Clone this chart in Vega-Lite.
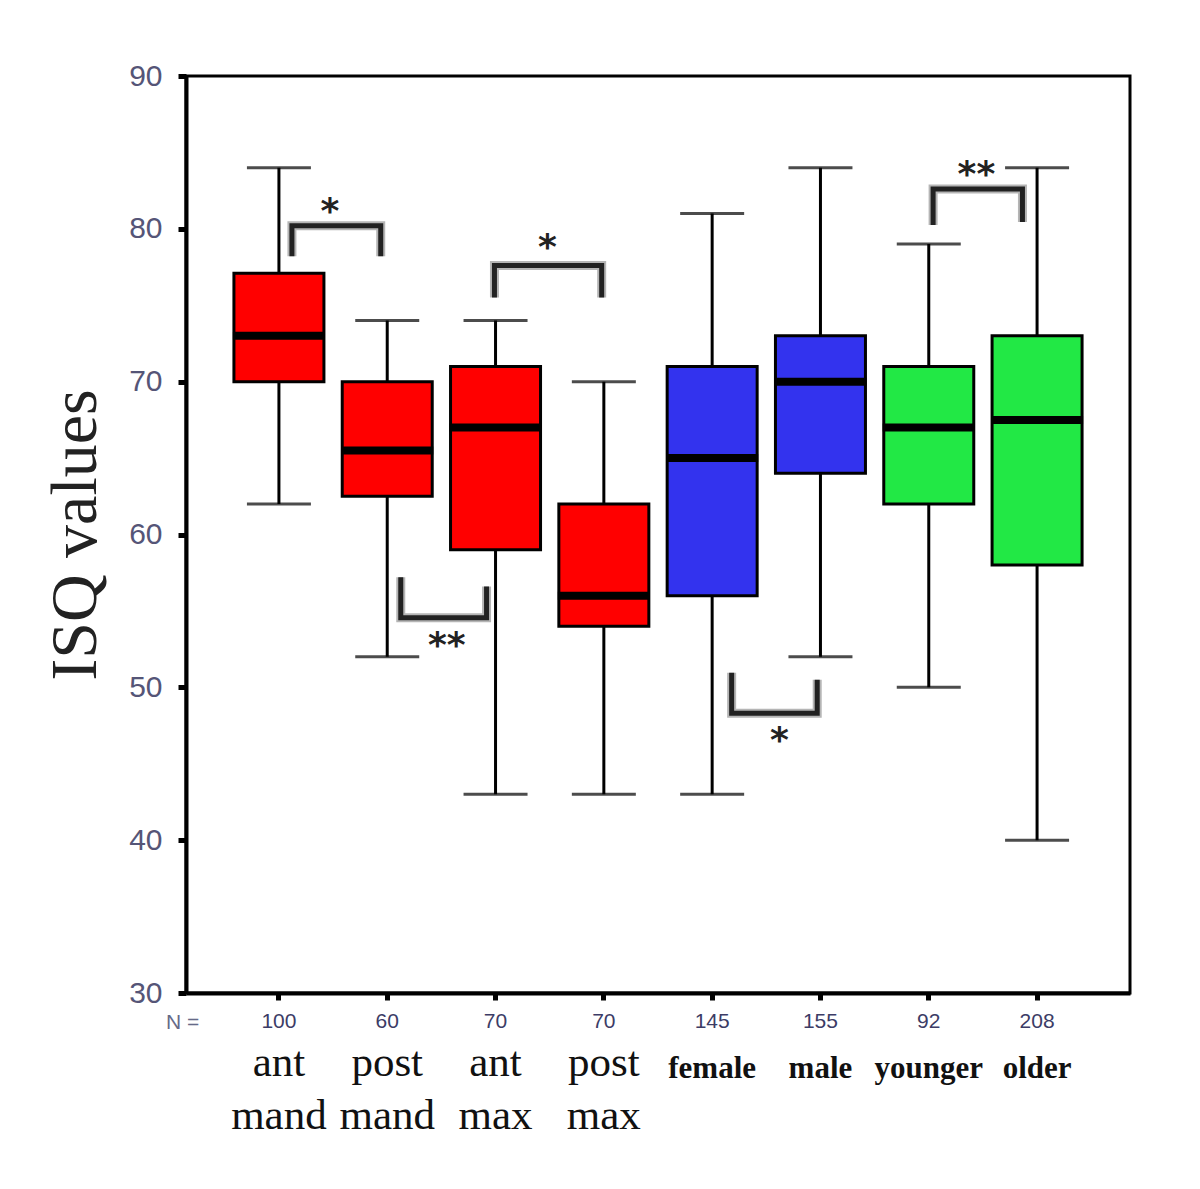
{
  "$schema": "https://vega.github.io/schema/vega-lite/v6.json",
  "width": 944,
  "height": 917,
  "autosize": {"type": "none"},
  "padding": {"left": 186, "top": 76, "right": 70, "bottom": 196},
  "background": "white",
  "config": {"view": {"stroke": "black", "strokeWidth": 3}, "axis": {"grid": false}},
  "datasets": {
    "boxes": [
      {"group": "ant mand", "set": "site", "n": 100, "lo": 62, "q1": 70, "median": 73, "q3": 77.1, "hi": 84},
      {"group": "post mand", "set": "site", "n": 60, "lo": 52, "q1": 62.5, "median": 65.5, "q3": 70, "hi": 74},
      {"group": "ant max", "set": "site", "n": 70, "lo": 43, "q1": 59, "median": 67, "q3": 71, "hi": 74},
      {"group": "post max", "set": "site", "n": 70, "lo": 43, "q1": 54, "median": 56, "q3": 62, "hi": 70},
      {"group": "female", "set": "sex", "n": 145, "lo": 43, "q1": 56, "median": 65, "q3": 71, "hi": 81},
      {"group": "male", "set": "sex", "n": 155, "lo": 52, "q1": 64, "median": 70, "q3": 73, "hi": 84},
      {"group": "younger", "set": "age", "n": 92, "lo": 50, "q1": 62, "median": 67, "q3": 71, "hi": 79},
      {"group": "older", "set": "age", "n": 208, "lo": 40, "q1": 58, "median": 67.5, "q3": 73, "hi": 84}
    ],
    "brackets": [
      {"id": 1, "ord": 1, "group": "ant mand", "dx": 0.12, "y": 78.2},
      {"id": 1, "ord": 2, "group": "ant mand", "dx": 0.12, "y": 80.2},
      {"id": 1, "ord": 3, "group": "post mand", "dx": -0.06, "y": 80.2},
      {"id": 1, "ord": 4, "group": "post mand", "dx": -0.06, "y": 78.2},
      {"id": 2, "ord": 1, "group": "ant max", "dx": -0.01, "y": 75.5},
      {"id": 2, "ord": 2, "group": "ant max", "dx": -0.01, "y": 77.6},
      {"id": 2, "ord": 3, "group": "post max", "dx": -0.02, "y": 77.6},
      {"id": 2, "ord": 4, "group": "post max", "dx": -0.02, "y": 75.5},
      {"id": 3, "ord": 1, "group": "post mand", "dx": 0.125, "y": 57.2},
      {"id": 3, "ord": 2, "group": "post mand", "dx": 0.125, "y": 54.55},
      {"id": 3, "ord": 3, "group": "ant max", "dx": -0.083, "y": 54.55},
      {"id": 3, "ord": 4, "group": "ant max", "dx": -0.083, "y": 56.6},
      {"id": 4, "ord": 1, "group": "female", "dx": 0.18, "y": 50.95},
      {"id": 4, "ord": 2, "group": "female", "dx": 0.18, "y": 48.3},
      {"id": 4, "ord": 3, "group": "male", "dx": -0.03, "y": 48.3},
      {"id": 4, "ord": 4, "group": "male", "dx": -0.03, "y": 50.5},
      {"id": 5, "ord": 1, "group": "younger", "dx": 0.04, "y": 80.25},
      {"id": 5, "ord": 2, "group": "younger", "dx": 0.04, "y": 82.6},
      {"id": 5, "ord": 3, "group": "older", "dx": -0.135, "y": 82.6},
      {"id": 5, "ord": 4, "group": "older", "dx": -0.135, "y": 80.45}
    ],
    "stars": [
      {"group": "ant mand", "dx": 0.47, "y": 81.6, "label": "*"},
      {"group": "ant max", "dx": 0.48, "y": 79.3, "label": "*"},
      {"group": "post mand", "dx": 0.55, "y": 53.2, "label": "**"},
      {"group": "female", "dx": 0.62, "y": 47.0, "label": "*"},
      {"group": "younger", "dx": 0.44, "y": 84.05, "label": "**"}
    ]
  },
  "encoding": {
    "x": {
      "field": "group",
      "type": "nominal",
      "scale": {
        "domain": ["ant mand", "post mand", "ant max", "post max", "female", "male", "younger", "older"],
        "paddingInner": 0,
        "paddingOuter": 0.358
      },
      "axis": {
        "title": "N =",
        "titleX": -4,
        "titleY": 29,
        "titleAlign": "center",
        "titleBaseline": "middle",
        "titleAngle": 0,
        "titleFont": "Liberation Sans",
        "titleFontSize": 21,
        "titleFontWeight": "normal",
        "titleColor": "#666a88",
        "domainColor": "black",
        "domainWidth": 4,
        "tickColor": "black",
        "tickSize": 7,
        "tickWidth": 5,
        "labelAngle": 0,
        "labelExpr": "split(datum.value, ' ')",
        "labelFont": "Liberation Serif",
        "labelFontSize": {"condition": {"test": "indexof(datum.value, ' ') >= 0", "value": 43}, "value": 31},
        "labelFontWeight": {"condition": {"test": "indexof(datum.value, ' ') >= 0", "value": "normal"}, "value": "bold"},
        "labelPadding": {"condition": {"test": "indexof(datum.value, ' ') >= 0", "value": 41}, "value": 53},
        "labelBaseline": "top",
        "labelLineHeight": 53,
        "labelColor": "#111111",
        "labelOverlap": false
      }
    }
  },
  "layer": [
    {
      "data": {"name": "boxes"},
      "mark": {"type": "rule", "color": "black", "strokeWidth": 3},
      "encoding": {
        "y": {
          "field": "lo",
          "type": "quantitative",
          "title": "ISQ values",
          "scale": {"domain": [30, 90], "nice": false, "zero": false},
          "axis": {
            "values": [30, 40, 50, 60, 70, 80, 90],
            "domainColor": "black",
            "domainWidth": 4,
            "tickColor": "black",
            "tickSize": 8,
            "tickWidth": 5,
            "labelFont": "Liberation Sans",
            "labelFontSize": 30,
            "labelColor": "#555577",
            "labelPadding": 16,
            "titleFont": "Liberation Serif",
            "titleFontSize": 66,
            "titleFontWeight": "normal",
            "titleColor": "#222222",
            "titlePadding": 19
          }
        },
        "y2": {"field": "hi"}
      }
    },
    {
      "data": {"name": "boxes"},
      "mark": {"type": "tick", "orient": "horizontal", "color": "black", "size": 64, "thickness": 3},
      "encoding": {"y": {"field": "lo", "type": "quantitative", "title": "ISQ values"}}
    },
    {
      "data": {"name": "boxes"},
      "mark": {"type": "tick", "orient": "horizontal", "color": "black", "size": 64, "thickness": 3},
      "encoding": {"y": {"field": "hi", "type": "quantitative", "title": "ISQ values"}}
    },
    {
      "data": {"name": "boxes"},
      "mark": {"type": "bar", "size": 90, "stroke": "black", "strokeWidth": 3, "opacity": 1},
      "encoding": {
        "y": {"field": "q1", "type": "quantitative", "title": "ISQ values"},
        "y2": {"field": "q3"},
        "color": {
          "field": "set",
          "type": "nominal",
          "scale": {"domain": ["site", "sex", "age"], "range": ["#ff0000", "#3333ee", "#22e845"]},
          "legend": null
        }
      }
    },
    {
      "data": {"name": "boxes"},
      "mark": {"type": "tick", "orient": "horizontal", "color": "black", "size": 92, "thickness": 8, "opacity": 1},
      "encoding": {"y": {"field": "median", "type": "quantitative", "title": "ISQ values"}}
    },
    {
      "data": {"name": "boxes"},
      "mark": {"type": "text", "font": "Liberation Sans", "fontSize": 21, "color": "#3c3c66", "baseline": "middle", "align": "center"},
      "encoding": {
        "y": {"datum": 28.1, "type": "quantitative", "title": "ISQ values"},
        "text": {"field": "n", "type": "quantitative"}
      }
    },
    {
      "data": {"name": "brackets"},
      "mark": {"type": "line", "color": "#b5b5b5", "strokeWidth": 9, "strokeJoin": "miter", "strokeCap": "butt"},
      "encoding": {
        "xOffset": {"field": "dx", "type": "quantitative", "scale": {"domain": [-0.5, 0.5]}},
        "y": {"field": "y", "type": "quantitative", "title": "ISQ values"},
        "detail": {"field": "id", "type": "nominal"},
        "order": {"field": "ord", "type": "quantitative"}
      }
    },
    {
      "data": {"name": "brackets"},
      "mark": {"type": "line", "color": "#222222", "strokeWidth": 5, "strokeJoin": "miter", "strokeCap": "butt"},
      "encoding": {
        "xOffset": {"field": "dx", "type": "quantitative", "scale": {"domain": [-0.5, 0.5]}},
        "y": {"field": "y", "type": "quantitative", "title": "ISQ values"},
        "detail": {"field": "id", "type": "nominal"},
        "order": {"field": "ord", "type": "quantitative"}
      }
    },
    {
      "data": {"name": "stars"},
      "mark": {"type": "text", "font": "DejaVu Sans", "fontWeight": "bold", "fontSize": 36, "color": "#222222", "baseline": "alphabetic", "align": "center", "dy": 19},
      "encoding": {
        "xOffset": {"field": "dx", "type": "quantitative", "scale": {"domain": [-0.5, 0.5]}},
        "y": {"field": "y", "type": "quantitative", "title": "ISQ values"},
        "text": {"field": "label", "type": "nominal"}
      }
    }
  ]
}
